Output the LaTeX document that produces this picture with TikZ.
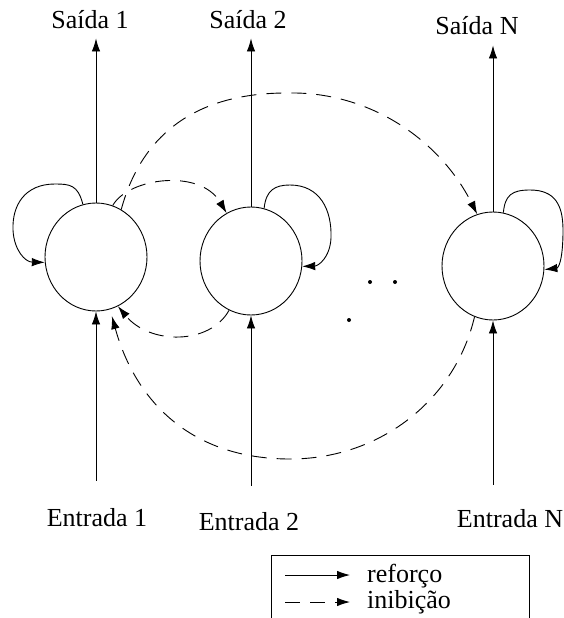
\documentclass[tikz,border=0pt]{standalone}
\usepackage{fontspec}
\setmainfont{Liberation Serif}
\usetikzlibrary{arrows.meta,shapes.geometric}

\begin{document}
\begin{tikzpicture}[x=1pt, y=-1pt,
    neuronio/.style={draw, ellipse, minimum width=102pt, minimum height=108pt, inner sep=0pt, line width=0.9pt},
    rotulo/.style={font=\fontsize{26}{30}\selectfont, inner sep=0pt, anchor=base},
    reforco/.style={line width=0.9pt, -{Latex[length=13pt, width=8.5pt]}},
    inibicao/.style={reforco, dash pattern=on 15pt off 10pt}]
    \useasboundingbox (0,0) rectangle (564,618);

    % Neurons
    \node[neuronio] (n1) at (96,257) {};
    \node[neuronio] (n2) at (251,261) {};
    \node[neuronio] (n3) at (493,266) {};

    % Outputs
    \node[rotulo] (s1) at (90,29) {Saída 1};
    \node[rotulo] (s2) at (248,29) {Saída 2};
    \node[rotulo] (s3) at (477,35) {Saída N};
    \draw[reforco, shorten >=9pt] (n1.north) -- (n1.north |- s1.south);
    \draw[reforco, shorten >=9pt] (n2.north) -- (n2.north |- s2.south);
    \draw[reforco, shorten >=10pt] (n3.north) -- (n3.north |- s3.south);

    % Inputs
    \node[rotulo] (e1) at (97,526) {Entrada 1};
    \node[rotulo] (e2) at (249,530) {Entrada 2};
    \node[rotulo] (e3) at (510,527) {Entrada N};
    \draw[reforco, shorten <=27pt] (n1.south |- e1.north) -- (n1.south);
    \draw[reforco, shorten <=26pt] (n2.south |- e2.north) -- (n2.south);
    \draw[reforco, shorten <=24pt] (n3.south |- e3.north) -- (n3.south);

    % Self loops
    \draw[reforco] (n1.104) .. controls (78,185) and (70,184) .. (55,184)
        .. controls (25,184) and (12,205) .. (13,230)
        .. controls (14,250) and (25,262) .. (n1.186);
    \draw[reforco] (n2.76) .. controls (266,190) and (275,185) .. (290,185)
        .. controls (320,185) and (332,210) .. (331,238)
        .. controls (330,258) and (318,266) .. (n2.354);
    \draw[reforco] (n3.79) .. controls (505,195) and (512,190) .. (530,190)
        .. controls (555,190) and (563,205) .. (563,230)
        .. controls (563,262) and (558,268) .. (n3.356);

    % Inhibition
    \draw[inibicao] (n1.72) .. controls (128,178) and (200,168) .. (n2.117);
    \draw[inibicao] (n1.62) .. controls (140,140) and (190,92) .. (290,93)
        .. controls (370,92) and (440,140) .. (n3.107);
    \draw[inibicao] (n2.246) .. controls (210,345) and (150,345) .. (n1.294);
    \draw[inibicao, shorten >=7pt] (n3.250) .. controls (455,400) and (380,459) .. (290,459)
        .. controls (190,459) and (135,400) .. (n1.285);

    % Dots
    \fill (370,282) circle (2);
    \fill (395,282) circle (2);
    \fill (349,320) circle (2);

    % Legend
    \draw[line width=0.9pt] (271,620) -- (271,555) -- (529,555) -- (529,620);
    \node[rotulo, anchor=base west] (leg1) at (367,582) {reforço};
    \node[rotulo, anchor=base west] (leg2) at (367,608) {inibição};
    \coordinate (l1) at (285,575);
    \coordinate (l2) at (285,602);
    \draw[reforco, shorten >=17pt] (l1) -- (l1 -| leg1.west);
    \draw[inibicao, shorten >=17pt] (l2) -- (l2 -| leg2.west);
\end{tikzpicture}
\end{document}
